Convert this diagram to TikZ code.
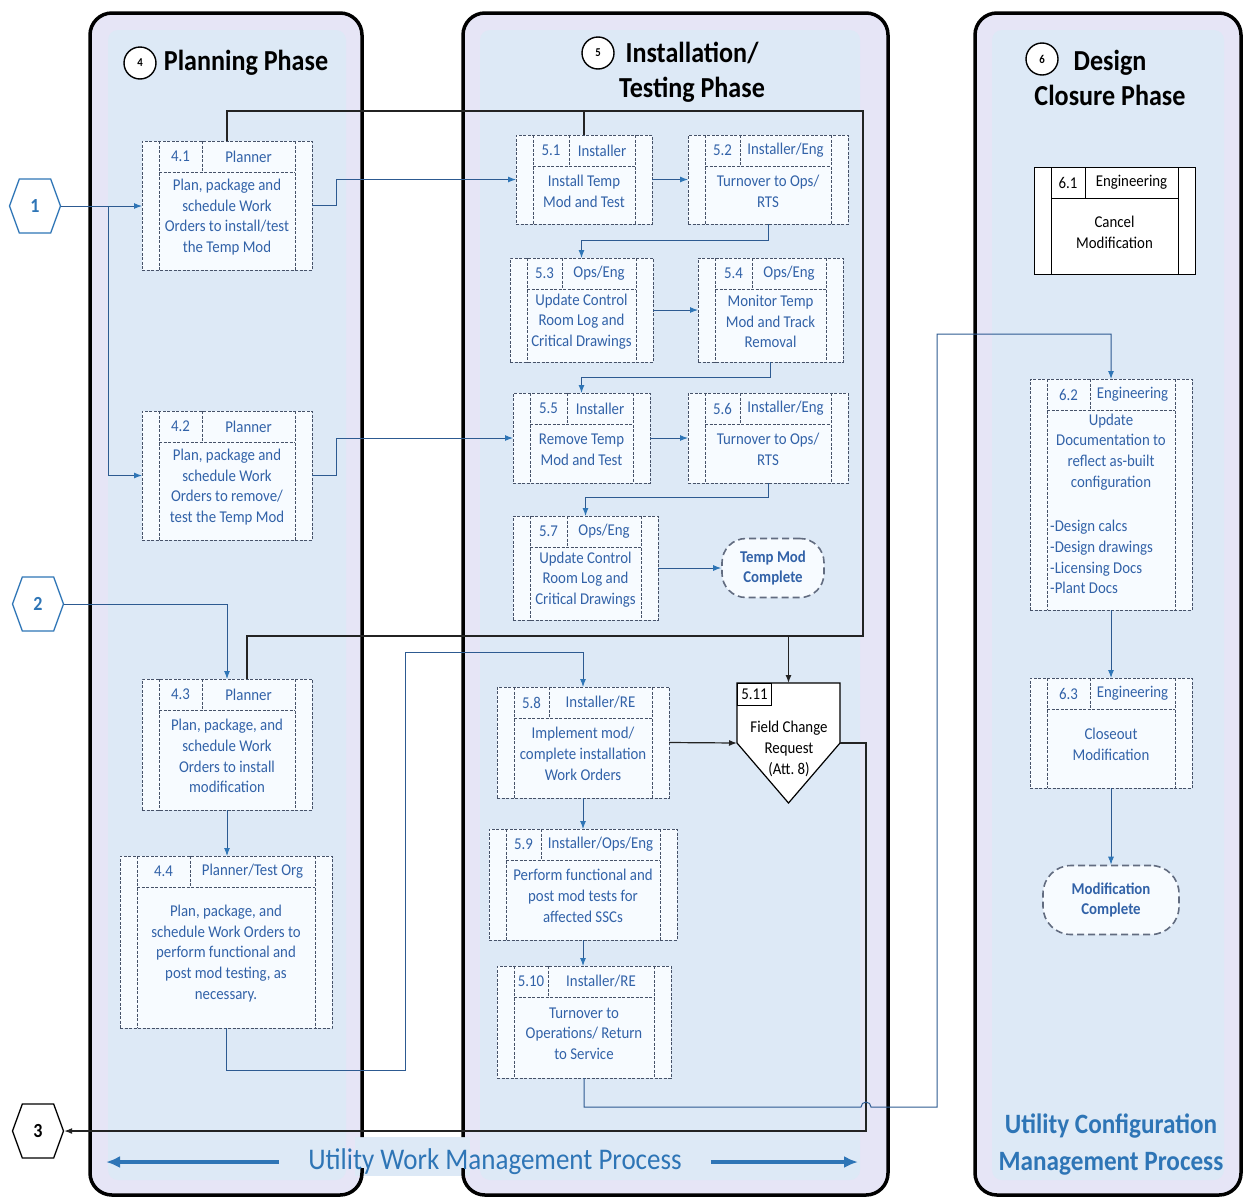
\documentclass[tikz,border=0pt]{standalone}
\usepackage{fontspec}
\setmainfont{Carlito}[FakeStretch=0.9]
\usetikzlibrary{shapes.symbols, arrows.meta, positioning, calc, fit}
\definecolor{lanelav}{RGB}{230,229,246}
\definecolor{laneblue}{RGB}{221,233,246}
\definecolor{boxedge}{RGB}{70,82,105}
\definecolor{boxfill}{RGB}{247,251,255}
\definecolor{steptext}{RGB}{50,98,168}
\definecolor{flowblue}{RGB}{46,117,182}
\definecolor{flowline}{RGB}{45,90,145}
\definecolor{fcrblack}{RGB}{35,35,35}

\newcommand{\boxfont}{\fontsize{16.5}{20.7}\selectfont}

% process box: [number cell width]{name}{top left}{bottom right}{number}{role}{text}
\newcommand{\procbox}[7][35]{%
  \coordinate (#2-a) at #3;
  \coordinate (#2-b) at #4;
  \node[pbody, fit=(#2-a)(#2-b)] (#2) {};
  \draw[pline] ($(#2.north west)+(17,0)$) -- ($(#2.south west)+(17,0)$)
    ($(#2.north east)+(-17,0)$) -- ($(#2.south east)+(-17,0)$)
    ($(#2.north west)+(17,31)$) -- ($(#2.north east)+(-17,31)$)
    ($(#2.north west)+(17+#1,0)$) -- ($(#2.north west)+(17+#1,31)$);
  \node[ptext] (#2-num) at ($(#2.north west)+(17+#1/2,15.5)$) {#5};
  \node[ptext] (#2-role) at ($(#2.north)+(#1/2,15.5)$) {#6};
  \node[ptext, align=center] (#2-txt) at ($(#2.center)+(0,11.5)$) {#7};
}

\begin{document}
\begin{tikzpicture}[x=1pt, y=-1pt,
  lanefill/.style={fill=lanelav, rounded corners=22pt},
  laneinner/.style={fill=laneblue, rounded corners=10pt},
  laneborder/.style={draw=black, line width=3.5pt, rounded corners=22pt},
  pbody/.style={draw=boxedge, line width=0.8pt, dash pattern=on 3pt off 1.5pt, fill=boxfill, inner sep=0pt, outer sep=0pt},
  pline/.style={draw=boxedge, line width=0.8pt, dash pattern=on 3pt off 1.5pt},
  ptext/.style={text=steptext, font=\boxfont, inner sep=1pt},
  endstate/.style={draw=boxedge!85, line width=1.6pt, dash pattern=on 7pt off 4pt, rounded corners=24pt, fill=boxfill, text=steptext, font=\boxfont\bfseries, align=center, inner sep=0pt},
  offpage/.style={shape=signal, signal to=west and east, signal pointer angle=140, minimum width=51pt, minimum height=54pt, inner sep=0pt, draw=flowblue, line width=1.3pt, fill=white, text=flowblue, font=\fontsize{20}{24}\selectfont\bfseries},
  phasenum/.style={circle, draw=black, line width=1.4pt, fill=white, minimum size=32pt, inner sep=0pt, font=\fontsize{12}{12}\selectfont\bfseries},
  phasetitle/.style={font=\fontsize{29}{35}\selectfont\bfseries, align=center, inner sep=1pt},
  flow/.style={draw=flowline, line width=1pt, -{Latex[length=8pt, width=6pt, color=flowblue]}},
  fcrline/.style={draw=fcrblack, line width=1.2pt},
  fcrarrow/.style={fcrline, -{Latex[length=8pt, width=6pt]}},
  bandarrow/.style={draw=flowblue, line width=4pt, -{Latex[length=14pt, width=12pt]}}
]
  \useasboundingbox (0,0) rectangle (1244,1197);

  % swim lanes
  \fill[lanefill] (90,13) rectangle (362,1195);
  \fill[laneinner] (108,30) rectangle (346,1180);
  \fill[lanefill] (463,13) rectangle (888,1195);
  \fill[laneinner] (480,30) rectangle (860,1180);
  \fill[lanefill] (975,13) rectangle (1241,1195);
  \fill[laneinner] (992,30) rectangle (1224,1180);
  \fill[laneblue] (355,1137) rectangle (470,1176);
  \draw[laneborder] (362,1137) -- (362,13) -- (90,13) -- (90,1195) -- (362,1195) -- (362,1168);
  \draw[laneborder] (463,1137) -- (463,13) -- (888,13) -- (888,1195) -- (463,1195) -- (463,1168);
  \draw[laneborder] (975,13) rectangle (1241,1195);

  % phase titles
  \node[phasenum] (n4) at (140,63) {4};
  \node[phasetitle] (t4) at (246,63) {Planning Phase};
  \node[phasenum] (n5) at (598,53) {5};
  \node[phasetitle] (t5) at (692,72) {Installation/\\Testing Phase};
  \node[phasenum] (n6) at (1042,59) {6};
  \node[phasetitle] (t6) at (1110,78) {Design\\Closure Phase};

  % planning phase
  \procbox[43]{p41}{(142,141)}{(312,270)}{4.1}{Planner}{Plan, package and\\schedule Work\\Orders to install/test\\the Temp Mod}
  \procbox[43]{p42}{(142,411)}{(312,540)}{4.2}{Planner}{Plan, package and\\schedule Work\\Orders to remove/\\test the Temp Mod}
  \procbox[43]{p43}{(142,679)}{(312,810)}{4.3}{Planner}{Plan, package, and\\schedule Work\\Orders to install\\modification}
  \procbox[53]{p44}{(120,856)}{(332,1028)}{4.4}{Planner/Test Org}{Plan, package, and\\schedule Work Orders to\\perform functional and\\post mod testing, as\\necessary.}

  % installation / testing phase
  \procbox[36]{p51}{(516,135)}{(652,224)}{5.1}{Installer}{Install Temp\\Mod and Test}
  \procbox{p52}{(688,135)}{(848,224)}{5.2}{Installer/Eng}{Turnover to Ops/\\RTS}
  \procbox{p53}{(510,258)}{(653,362)}{5.3}{Ops/Eng}{Update Control\\Room Log and\\Critical Drawings}
  \procbox[37]{p54}{(698,258)}{(843,362)}{5.4}{Ops/Eng}{Monitor Temp\\Mod and Track\\Removal}
  \procbox[37]{p55}{(513,393)}{(650,483)}{5.5}{Installer}{Remove Temp\\Mod and Test}
  \procbox{p56}{(688,393)}{(848,483)}{5.6}{Installer/Eng}{Turnover to Ops/\\RTS}
  \procbox[37]{p57}{(513,516)}{(658,620)}{5.7}{Ops/Eng}{Update Control\\Room Log and\\Critical Drawings}
  \node[endstate, minimum width=102pt, minimum height=59pt] (tmc) at (773,568) {Temp Mod\\Complete};
  \procbox{p58}{(497,687)}{(669,798)}{5.8}{Installer/RE}{Implement mod/\\complete installation\\Work Orders}
  \procbox{p59}{(489,829)}{(677,940)}{5.9}{Installer/Ops/Eng}{Perform functional and\\post mod tests for\\affected SSCs}
  \procbox[34]{p510}{(497,966)}{(671,1078)}{5.10}{Installer/RE}{Turnover to\\Operations/ Return\\to Service}

  % field change request
  \node[minimum width=103pt, minimum height=60pt, inner sep=0pt, outer sep=0pt] (fcr) at (788.5,713) {};
  \draw[fill=white, draw=black, line width=1.2pt] (fcr.north west) -- (fcr.north east) -- (fcr.south east) -- ($(fcr.south)+(0,60)$) -- (fcr.south west) -- cycle;
  \node[draw=black, line width=1pt, anchor=north west, minimum width=34pt, minimum height=22pt, inner sep=0pt, font=\boxfont] (fcr-num) at (fcr.north west) {5.11};
  \node[ptext, text=black, align=center] (fcr-txt) at (789,749) {Field Change\\Request\\(Att.~8)};

  % design closure phase
  \begin{scope}[pbody/.append style={draw=black, solid, line width=1pt, fill=white}, pline/.append style={draw=black, solid}, ptext/.append style={text=black}]
    \procbox[34]{p61}{(1034,167)}{(1195,274)}{6.1}{Engineering}{Cancel\\Modification}
  \end{scope}
  \procbox[43]{p62}{(1030,379)}{(1192,610)}{6.2}{Engineering}{}
  \node[ptext, align=center] (p62-head) at (1111,452) {Update\\Documentation to\\reflect as-built\\configuration};
  \node[ptext, align=left, anchor=west] (p62-list) at (1049,557) {-Design calcs\\-Design drawings\\-Licensing Docs\\-Plant Docs};
  \procbox[43]{p63}{(1030,678)}{(1192,788)}{6.3}{Engineering}{Closeout\\Modification}
  \node[endstate, minimum width=136pt, minimum height=69pt, rounded corners=28pt] (mc) at (1111,900) {Modification\\Complete};

  % off-page references
  \node[offpage] (h1) at (35,206) {1};
  \node[offpage] (h2) at (38,604) {2};
  \node[offpage, draw=black, text=black] (h3) at (38,1131) {3};

  % process labels
  \node[font=\fontsize{30}{35}\selectfont, text=flowblue, inner sep=1pt] (uwm) at (495,1162) {Utility Work Management Process};
  \coordinate (bandl) at (106,1162);
  \coordinate (bandr) at (858,1162);
  \draw[bandarrow] ($(uwm.west)+(-28,0)$) -- (bandl);
  \draw[bandarrow] ($(uwm.east)+(28,0)$) -- (bandr);
  \node[font=\fontsize{28}{37}\selectfont\bfseries, text=flowblue, align=center, inner sep=1pt] (ucm) at (1111,1145) {Utility Configuration\\Management Process};

  % connectors
  \coordinate (j1) at (108,206);
  \draw[flow] (h1.east) -- (h1.east -| p41.west);
  \draw[flow] (j1) |- (p42.west);
  \draw[flow] (p41.east) -- ++(24,0) |- (p51.west);
  \draw[flow] (p42.east) -- ++(24,0) |- (p55.west);
  \draw[flow] (p51.east) -- (p52.west);
  \draw[flow] (p52.south) -- ++(0,16) -| (p53.north);
  \draw[flow] (p53.east) -- (p54.west);
  \draw[flow] (p54.south) -- ++(0,15) -| (p55.north);
  \draw[flow] (p55.east) -- (p56.west);
  \draw[flow] (p56.south) -- ++(0,14) -| (p57.north);
  \draw[flow] (p57.east) -- (tmc.west);

  \coordinate (loopne) at (863,111);
  \coordinate (loopse) at (863,636);
  \draw[fcrline] (p41.north) |- (loopne) -- (loopse) -| ($(p43.north)+(20,0)$);
  \draw[fcrline] (p51.north) -- (p51.north |- loopne);
  \draw[fcrarrow] (fcr.north |- loopse) -- (fcr.north);

  \draw[flow] (h2.east) -| (p43.north);
  \draw[flow] (p43.south) -- (p43.south |- p44.north);
  \coordinate (c1) at (405,1070);
  \coordinate (c2) at (405,652);
  \draw[flow] (p44.south) |- (c1) -- (c2) -| (p58.north);
  \draw[flow] (p58.south) -- (p59.north);
  \draw[flow] (p59.south) -- (p59.south |- p510.north);
  \draw[fcrarrow] (p58.east) -- (fcr.south west);
  \coordinate (c3) at (866,1131);
  \draw[fcrarrow] (fcr.south east) -| (c3) -- (h3.east);
  \coordinate (c4) at (937,1107);
  \coordinate (c5) at (937,334);
  \draw[flow] (p510.south) |- ($(c3 |- c4)+(-5,0)$) arc[start angle=180, end angle=360, radius=5] -- (c4) -- (c5) -| (p62.north);
  \draw[flow] (p62.south) -- (p63.north);
  \draw[flow] (p63.south) -- (mc.north);
\end{tikzpicture}
\end{document}
